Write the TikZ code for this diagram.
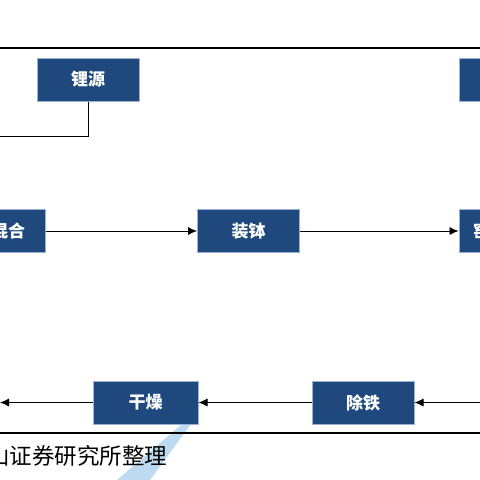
\documentclass[tikz,border=0pt]{standalone}
\usepackage{fontspec}
\usetikzlibrary{positioning, arrows.meta}
\newfontfamily\cjksans{Noto Sans CJK SC}
\definecolor{procBlue}{RGB}{31, 73, 125}
\definecolor{procEdge}{RGB}{150, 178, 212}
\definecolor{markBlue}{RGB}{190, 218, 240}
\tikzset{
  proc/.style={rectangle, draw=procEdge, fill=procBlue, line width=1pt, text=white,
    minimum height=43pt, minimum width=102pt, inner sep=0pt, font=\cjksans\bfseries\fontsize{17}{17}\selectfont},
  flow/.style={-{Latex[length=9pt, width=8pt]}, line width=0.8pt, black},
  link/.style={line width=0.8pt, black},
  rule/.style={line width=2pt, black},
}
\begin{document}
\begin{tikzpicture}[x=1pt, y=-1pt]
    \useasboundingbox (0,0) rectangle (480,480);
    \clip (0,0) rectangle (480,480);
    % watermark wedge
    \fill[markBlue] (182,424) -- (191,424) -- (150,480) -- (117,480) -- cycle;
    \draw[rule] (0,48) -- (480,48);
    \draw[rule] (0,433) -- (480,433);
    % top row
    \node[proc] (li) at (88,79.5) {锂源};
    \node[proc] (top) at (510.5,79.5) {};
    % middle row
    \node[proc, minimum width=74pt] (mix) at (8,231) {混合};
    \node[proc] (load) at (248.5,231) {装钵};
    \node[proc, minimum width=62pt] (kiln) at (490,231) {窑烧};
    % bottom row
    \node[proc, minimum width=105pt] (dry) at (145.5,402.5) {干燥};
    \node[proc] (fe) at (363,402.5) {除铁};
    \coordinate (liturn) at (88,136);
    \coordinate (liend) at (-20,136);
    \coordinate (inR) at (520,402.5);
    \coordinate (outL) at (0,402.5);
    \draw[link] (li.south) -- (liturn) -- (liend);
    \draw[flow] (mix) -- (load);
    \draw[flow] (load) -- (kiln);
    \draw[flow] (inR) -- (fe);
    \draw[flow] (fe) -- (dry);
    \draw[flow] (dry) -- (outL);
    \node[anchor=west, inner sep=0pt, font=\cjksans\fontsize{22.5}{22.5}\selectfont] (src) at (-13,456) {山证券研究所整理};
\end{tikzpicture}
\end{document}
